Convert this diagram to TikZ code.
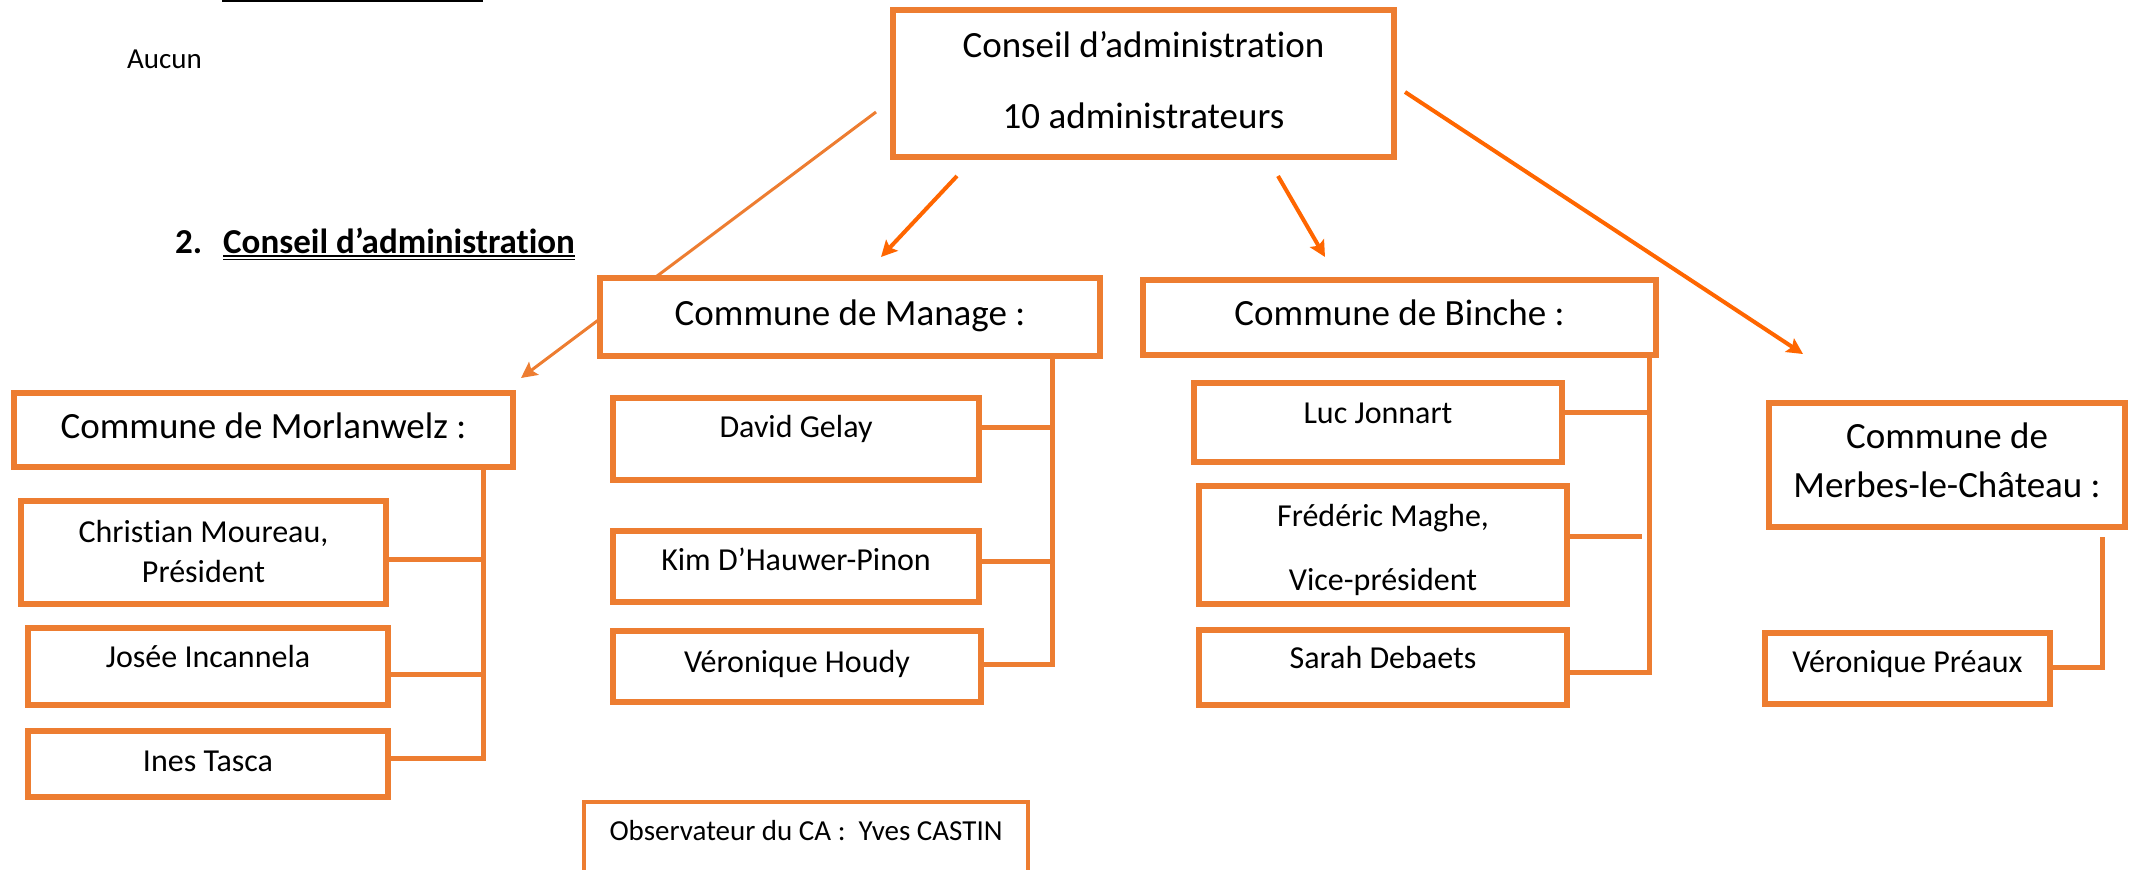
\documentclass[tikz,border=0pt]{standalone}
\usepackage{fontspec}
\setmainfont{Carlito}[Ligatures=NoCommon]
\usetikzlibrary{arrows.meta}
\definecolor{cadre}{HTML}{ED7D31}
\definecolor{fleche}{HTML}{FF6600}
\pgfdeclarelayer{fond}
\pgfsetlayers{fond,main}
\tikzset{
  boite/.style={draw=cadre,line width=6pt,fill=white,inner sep=0pt,align=center,font=\fontsize{32}{40}\selectfont},
  grand/.style={font=\fontsize{37}{#1}\selectfont},
  grand/.default=44,
  cote/.style n args={3}{minimum width=#1pt,text height=#2pt,text depth=#3pt},
  lien/.style={draw=cadre,line width=5pt},
  fl/.style={draw=fleche,line width=4pt,-{Stealth[length=16pt,width=16pt,inset=3pt]}}
}

\begin{document}
\begin{tikzpicture}[x=1pt,y=-1pt]
\useasboundingbox (0,0) rectangle (2134,870);
\draw[line width=2pt] (222,1) -- (483,1);
\path (127,68) node[anchor=base west,inner sep=0pt,font=\fontsize{29}{35}\selectfont](Aucun){Aucun}
 (175,253) node[anchor=base west,inner sep=0pt,font=\fontsize{35}{40}\selectfont\bfseries](Num){2.}
 (223,253) node[anchor=base west,inner sep=0pt,font=\fontsize{35}{40}\selectfont\bfseries](Titre){Conseil d’administration};
\draw[line width=1.3pt] ([yshift=-3pt]Titre.base west) -- ([yshift=-3pt]Titre.base east);
\draw[line width=1.3pt] ([yshift=-6.5pt]Titre.base west) -- ([yshift=-6.5pt]Titre.base east);

\path (1143.5,83.5) node[boite,grand=71,cote={501}{118}{29}](CA){Conseil d’administration\\10 administrateurs}
 (850,317) node[boite,grand,cote={500}{47}{31}](Manage){Commune de Manage :}
 (1399.5,317.5) node[boite,grand,cote={513}{45}{30}](Binche){Commune de Binche :}
 (263.5,430) node[boite,grand,cote={499}{45}{29}](Morlanwelz){Commune de Morlanwelz :}
 (1947,465) node[boite,grand=49,cote={356}{94}{30}](Merbes){Commune de\\Merbes-le-Château :}
 (203.5,552.5) node[boite,cote={365}{81}{22}](Moureau){Christian Moureau,\\Président}
 (208,666.5) node[boite,cote={360}{39}{38}](Incannela){Josée Incannela}
 (208,764) node[boite,cote={360}{40}{26}](Tasca){Ines Tasca}
 (796,439) node[boite,cote={366}{39}{43}](Gelay){David Gelay}
 (796,566.5) node[boite,cote={366}{39}{32}](Pinon){Kim D’Hauwer-Pinon}
 (797,666.5) node[boite,cote={368}{41}{30}](Houdy){Véronique Houdy}
 (1378,422.5) node[boite,cote={368}{40}{39}](Jonnart){Luc Jonnart}
 (1383,545) node[boite,font=\fontsize{32}{64}\selectfont,cote={368}{104}{14}](Maghe){Frédéric Maghe,\\Vice-président}
 (1383,667.5) node[boite,cote={368}{38}{37}](Debaets){Sarah Debaets}
 (1907.5,668.5) node[boite,cote={285}{39}{32}](Preaux){Véronique Préaux}
 (806,851) node[boite,line width=4pt,font=\fontsize{29}{35}\selectfont,cote={444}{38}{60}](Observateur){Observateur du CA :\ \ Yves CASTIN};

% fleches du conseil vers les communes
\begin{pgfonlayer}{fond}
\draw[fl,draw=cadre,line width=3pt] ([xshift=-14pt,yshift=-28.5pt]CA.west) -- ([xshift=5pt,yshift=12pt]Morlanwelz.north east);
\draw[fl] ([xshift=-186.5pt,yshift=-16pt]CA.south) -- ([xshift=31pt,yshift=18pt]Manage.north);
\draw[fl] ([xshift=134.5pt,yshift=-16pt]CA.south) -- ([xshift=-74.5pt,yshift=20pt]Binche.north);
\draw[fl] ([xshift=8pt,yshift=-8.5pt]CA.east) -- ([xshift=-144pt,yshift=46pt]Merbes.north);
\end{pgfonlayer}

% accolades des membres
\coordinate (axeMo) at ([xshift=-33pt]Morlanwelz.south east);
\coordinate (axeMa) at ([xshift=-51pt]Manage.south east);
\coordinate (axeB) at ([xshift=-10pt]Binche.south east);
\coordinate (axeMe) at ([xshift=-26pt,yshift=-7pt]Merbes.south east);
\draw[lien] (axeMo) |- ([yshift=-6.5pt]Moureau.east);
\draw[lien] (axeMo) |- ([yshift=-7.5pt]Incannela.east);
\draw[lien] (axeMo) |- ([yshift=6pt]Tasca.east);
\draw[lien] (axeMa) |- ([yshift=12pt]Gelay.east);
\draw[lien] (axeMa) |- ([yshift=5.5pt]Pinon.east);
\draw[lien] (axeMa) |- ([yshift=2.5pt]Houdy.east);
\draw[lien] (axeB) |- ([yshift=10.5pt]Jonnart.east);
\draw[lien] ([yshift=9pt]Maghe.east) -- +(72,0);
\draw[lien] (axeB) |- ([yshift=-4.5pt]Debaets.east);
\draw[lien] (axeMe) |- ([yshift=1.5pt]Preaux.east);
\end{tikzpicture}
\end{document}
